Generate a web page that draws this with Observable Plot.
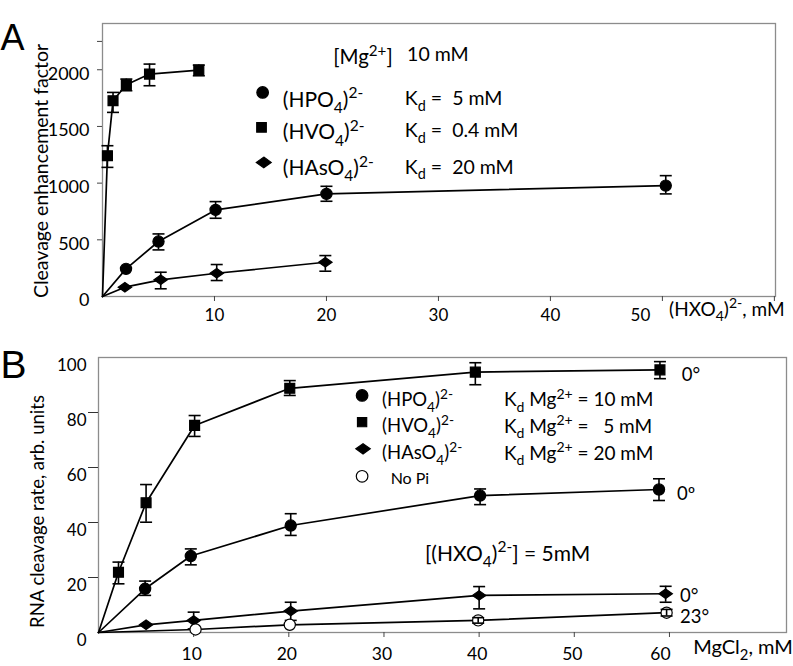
<!DOCTYPE html>
<html><head><meta charset="utf-8">
<script src="https://cdn.jsdelivr.net/npm/d3@7"></script>
<script src="https://cdn.jsdelivr.net/npm/@observablehq/plot@0.6"></script>
<style>
body{margin:0;background:#fff;}
#chart{width:793px;height:666px;overflow:hidden;}
#chart svg{display:block;}
svg text{white-space:pre;}
</style></head><body><div id="chart"></div>
<script>
// ---------- Panel A: cleavage enhancement vs (HXO4)2-, mM ----------
const aHPO4x  = [0, 2.1, 5, 10.1, 20, 50.3];
const aHPO4y  = [0, 244, 485, 764, 905, 978];
const aHPO4lo = [null, null, 411, 690, 840, 905];
const aHPO4hi = [null, null, 552, 837, 972, 1066];

const aHVO4x  = [0, 0.44, 0.94, 2.13, 4.2, 8.6];
const aHVO4y  = [0, 1242, 1727, 1868, 1962, 1997];
const aHVO4lo = [null, 1139, 1624, 1815, 1859, 1947];
const aHVO4hi = [null, 1330, 1800, 1918, 2050, 2041];

const aHAsO4x  = [0, 2, 5.2, 10.2, 19.9];
const aHAsO4y  = [0, 82, 147, 205, 302];
const aHAsO4lo = [null, null, 68, 141, 223];
const aHAsO4hi = [null, null, 214, 282, 361];

const aYTicks = [0, 500, 1000, 1500, 2000];
const aXTicks = [10, 20, 30, 40, 50, 60];

// ---------- Panel B: RNA cleavage rate vs MgCl2, mM ----------
const bHPO4x  = [0, 4.9, 9.7, 20.2, 40.1, 58.9];
const bHPO4y  = [0, 15.9, 27.8, 38.9, 49.8, 52];
const bHPO4lo = [null, 13.5, 24.6, 35.3, 46.5, 48];
const bHPO4hi = [null, 18.7, 30.4, 43.2, 52.2, 55.9];

const bHVO4x  = [0, 2.1, 5, 10.1, 20.1, 39.6, 59];
const bHVO4y  = [0, 21.9, 47.2, 75.3, 88.8, 94.7, 95.5];
const bHVO4lo = [null, 17.7, 40.1, 71.3, 86.2, 90.1, 92.3];
const bHVO4hi = [null, 25.6, 53.8, 78.9, 91.6, 98.1, 98.5];

const bHAsO4x  = [0, 5, 10, 20.2, 40, 59.6];
const bHAsO4y  = [0, 2.8, 4.4, 7.8, 13.5, 14.1];
const bHAsO4lo = [null, null, 1.3, 4.4, 8.6, 11];
const bHAsO4hi = [null, null, 7.4, 11, 16.7, 16.8];

const bNoPix  = [0, 10.2, 20.1, 39.9, 59.7];
const bNoPiy  = [0, 1.1, 2.8, 4.4, 7.2];
const bNoPilo = [null, null, null, 3.4, 6.0];
const bNoPihi = [null, null, null, 5.4, 8.4];

const bYTicks = [0, 20, 40, 60, 80, 100];
const bXTicks = [10, 20, 30, 40, 50, 60];

// ---------- helpers ----------
const series = (xs, ys, lo, hi) => xs.map((x, i) => ({x, y: ys[i], lo: lo[i], hi: hi[i]}));
const plain = d => String(d);

const diamond = {draw(ctx, size) { const r = Math.sqrt(size / Math.PI); const w = r * 1.2, h = r * 0.85;
  ctx.moveTo(0, -h); ctx.lineTo(w, 0); ctx.lineTo(0, h); ctx.lineTo(-w, 0); ctx.closePath(); }};
const cap = {draw(ctx, size) { const r = Math.sqrt(size / Math.PI); ctx.moveTo(-r, 0); ctx.lineTo(r, 0); }};

function seriesMarks(data, symbol, fill) {
  const pts = data.filter(d => d.x > 0);
  const bars = pts.filter(d => d.lo != null);
  return [
    Plot.line(data, {x: "x", y: "y", stroke: "black", strokeWidth: 1.7}),
    Plot.dot(pts, {x: "x", y: "y", symbol, r: 5.6, fill, stroke: "black", strokeWidth: 1.2}),
    Plot.ruleX(bars, {x: "x", y1: "lo", y2: "hi", stroke: "black", strokeWidth: 1.6}),
    Plot.dot(bars, {x: "x", y: "lo", symbol: cap, r: 6, fill: "none", stroke: "black", strokeWidth: 1.6}),
    Plot.dot(bars, {x: "x", y: "hi", symbol: cap, r: 6, fill: "none", stroke: "black", strokeWidth: 1.6})
  ];
}
const note = (str, x, y, opts = {}) =>
  Plot.text([str], {x: () => x, y: () => y, text: d => d, textAnchor: "start", fill: "black", ...opts});
const key = (x, y, symbol, fill, r = 5.8) =>
  Plot.dot([0], {x: () => x, y: () => y, symbol, r, fill, stroke: "black", strokeWidth: 1.2});

// ---------- Panel A ----------
const plotA = Plot.plot({
  width: 793, height: 330,
  marginLeft: 102, marginRight: 18, marginTop: 23, marginBottom: 34,
  x: {domain: [0, 60.1]},
  y: {domain: [0, 2408]},
  style: {fontFamily: "Lato, sans-serif", fontSize: "17px", color: "black", background: "white"},
  marks: [
    Plot.frame({stroke: "#8c8c8c", strokeWidth: 1.3}),
    Plot.axisY([500, 1000, 1500, 2000, 2250], {tickSize: 5, fill: "none", stroke: "#444", label: null}),
    Plot.axisY(aYTicks, {tickSize: 0, tickPadding: 13, dy: 4, fontSize: 18, tickFormat: plain, label: null}),
    Plot.axisX(aXTicks, {tickSize: 5, fill: "none", stroke: "#444", label: null}),
    Plot.axisX(aXTicks.filter(t => t <= 40), {tickSize: 0, tickPadding: 12, fontSize: 17, tickFormat: plain, label: null}),
    Plot.axisX([50], {tickSize: 0, tickPadding: 12, dx: -22, fontSize: 17, tickFormat: plain, label: null}),
    ...seriesMarks(series(aHAsO4x, aHAsO4y, aHAsO4lo, aHAsO4hi), diamond, "black"),
    ...seriesMarks(series(aHPO4x, aHPO4y, aHPO4lo, aHPO4hi), "circle", "black"),
    ...seriesMarks(series(aHVO4x, aHVO4y, aHVO4lo, aHVO4hi), "square", "black"),
    // legend
    note("[Mg^{2+}]", 20.6, 2110, {fontSize: 20.5}),
    note("10 mM", 27.2, 2128, {fontSize: 19.5}),
    key(14.3, 1800, "circle", "black"),
    key(14.2, 1492, "square", "black", 5.4),
    key(14.4, 1183, diamond, "black", 6.2),
    note("(HPO_{4})^{2-}", 16.1, 1735, {fontSize: 21}),
    note("(HVO_{4})^{2-}", 16.1, 1445, {fontSize: 21}),
    note("(HAsO_{4})^{2-}", 16.1, 1130, {fontSize: 21}),
    note("K_{d} =  5 mM", 27.0, 1745, {fontSize: 19.5}),
    note("K_{d} =  0.4 mM", 27.0, 1458, {fontSize: 19.5}),
    note("K_{d} =  20 mM", 27.0, 1140, {fontSize: 19.5}),
    // axis titles & panel letter
    note("(HXO_{4})^{2-}, mM", 50.6, null, {y: null, frameAnchor: "bottom", dy: 19, fontSize: 19}),
    Plot.text(["Cleavage enhancement factor"], {text: d => d, frameAnchor: "left", textAnchor: "middle", rotate: -90, dx: -61, dy: 11, fontSize: 19.5, fill: "black"}),
    Plot.text(["A"], {text: d => d, frameAnchor: "top-left", textAnchor: "start", dx: -102, dy: 0.5, fontSize: 36, fontFamily: "Liberation Sans, Arial, sans-serif", fill: "black"})
  ]
});

// ---------- Panel B ----------
const plotB = Plot.plot({
  width: 793, height: 336,
  marginLeft: 98, marginRight: 7, marginTop: 27, marginBottom: 34,
  x: {domain: [0, 72.3]},
  y: {domain: [0, 100]},
  style: {fontFamily: "Lato, sans-serif", fontSize: "17px", color: "black", background: "white"},
  marks: [
    Plot.frame({stroke: "#8c8c8c", strokeWidth: 1.3}),
    Plot.axisY([20, 40, 60, 80], {tickSize: 10, fill: "none", stroke: "#333", label: null}),
    Plot.axisY(bYTicks, {tickSize: 0, tickPadding: 12, dy: 8, fontSize: 17, tickFormat: plain, label: null}),
    Plot.axisX(bXTicks, {tickSize: 5, fill: "none", stroke: "#444", label: null}),
    Plot.axisX(bXTicks.filter(t => t <= 50), {tickSize: 0, tickPadding: 15, dx: -2, fontSize: 17.5, tickFormat: plain, label: null}),
    Plot.axisX([60], {tickSize: 0, tickPadding: 15, dx: -9, fontSize: 17.5, tickFormat: plain, label: null}),
    ...seriesMarks(series(bHAsO4x, bHAsO4y, bHAsO4lo, bHAsO4hi), diamond, "black"),
    ...seriesMarks(series(bNoPix, bNoPiy, bNoPilo, bNoPihi), "circle", "white"),
    ...seriesMarks(series(bHPO4x, bHPO4y, bHPO4lo, bHPO4hi), "circle", "black"),
    ...seriesMarks(series(bHVO4x, bHVO4y, bHVO4lo, bHVO4hi), "square", "black"),
    // legend
    key(27.7, 86.2, "circle", "black"),
    key(27.7, 76.5, "square", "black", 5.2),
    key(27.8, 66.8, diamond, "black", 6.0),
    key(27.7, 56.8, "circle", "white"),
    note("(HPO_{4})^{2-}", 29.8, 84.4, {fontSize: 18.5}),
    note("(HVO_{4})^{2-}", 29.8, 74.9, {fontSize: 18.5}),
    note("(HAsO_{4})^{2-}", 29.8, 65.1, {fontSize: 18.5}),
    note("No Pi", 30.7, 55.8, {fontSize: 16}),
    note("K_{d} Mg^{2+} = 10 mM", 42.6, 84.4, {fontSize: 19}),
    note("K_{d} Mg^{2+} =   5 mM", 42.6, 74.9, {fontSize: 19}),
    note("K_{d} Mg^{2+} = 20 mM", 42.6, 65.1, {fontSize: 19}),
    note("[(HXO_{4})^{2-}] = 5mM", 34.3, 28.6, {fontSize: 21}),
    note("0°", 61.3, 93.5, {fontSize: 18.5}),
    note("0º", 60.8, 50.5, {fontSize: 18.5}),
    note("0°", 61.1, 13.1, {fontSize: 18.5}),
    note("23°", 61.1, 5.5, {fontSize: 18.5}),
    // axis titles & panel letter
    note("MgCl_{2}, mM", 62.5, null, {y: null, frameAnchor: "bottom", dy: 21, fontSize: 20}),
    Plot.text(["RNA cleavage rate, arb. units"], {text: d => d, frameAnchor: "left", textAnchor: "middle", rotate: -90, dx: -60, dy: 16.5, fontSize: 18.5, fill: "black"}),
    Plot.text(["B"], {text: d => d, frameAnchor: "top-left", textAnchor: "start", dx: -98, dy: -7.5, fontSize: 39, fontFamily: "Liberation Sans, Arial, sans-serif", fill: "black"})
  ]
});

const root = document.getElementById("chart");
root.appendChild(plotA);
root.appendChild(plotB);

// render _{sub} and ^{sup} markup as real tspans
function richify(container) {
  container.querySelectorAll("text").forEach(el => {
    const t = el.textContent;
    if (!/[_^]\{/.test(t)) return;
    const fs = parseFloat(getComputedStyle(el).fontSize) || 16;
    while (el.firstChild) el.removeChild(el.firstChild);
    const re = /([_^])\{([^}]*)\}/g;
    let last = 0, m, cur = 0;
    const parts = [];
    while ((m = re.exec(t))) {
      if (m.index > last) parts.push([t.slice(last, m.index), 0]);
      parts.push([m[2], m[1] === "_" ? 1 : -1]);
      last = re.lastIndex;
    }
    if (last < t.length) parts.push([t.slice(last), 0]);
    for (const [s, k] of parts) {
      const off = k === 1 ? 0.3 * fs : k === -1 ? -0.4 * fs : 0;
      const ts = document.createElementNS("http://www.w3.org/2000/svg", "tspan");
      ts.setAttribute("dy", off - cur); cur = off;
      if (k) ts.setAttribute("font-size", 0.74 * fs);
      ts.textContent = s;
      el.appendChild(ts);
    }
  });
}
richify(root);
</script></body></html>
